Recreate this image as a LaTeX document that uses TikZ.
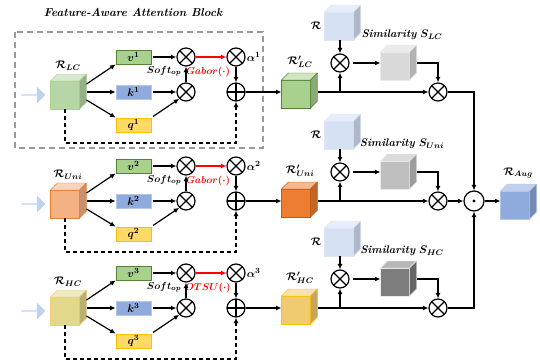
\documentclass[tikz,border=0pt]{standalone}
\usepackage{amsmath,amssymb}
\usepackage{tikz}
\usetikzlibrary{arrows.meta,positioning,shapes.arrows}

\definecolor{lcf}{RGB}{183,214,167}
\definecolor{lcd}{RGB}{169,209,142}
\definecolor{unif}{RGB}{244,177,131}
\definecolor{unid}{RGB}{237,125,49}
\definecolor{hcf}{RGB}{226,216,140}
\definecolor{hcd}{RGB}{244,205,110}
\definecolor{plcf}{RGB}{169,209,142}
\definecolor{plcd}{RGB}{84,130,53}
\definecolor{punif}{RGB}{237,125,49}
\definecolor{punid}{RGB}{197,90,17}
\definecolor{phcf}{RGB}{240,203,112}
\definecolor{phcd}{RGB}{255,192,0}
\definecolor{rcf}{RGB}{214,225,244}
\definecolor{rcd}{RGB}{222,230,245}
\definecolor{simlc}{RGB}{217,217,217}
\definecolor{simuni}{RGB}{190,190,190}
\definecolor{simhc}{RGB}{125,125,125}
\definecolor{simd}{RGB}{235,235,235}
\definecolor{augf}{RGB}{143,170,220}
\definecolor{augd}{RGB}{180,199,231}
\definecolor{vf}{RGB}{169,209,142}
\definecolor{vd}{RGB}{84,130,53}
\definecolor{kf}{RGB}{143,170,220}
\definecolor{kd}{RGB}{180,199,231}
\definecolor{qf}{RGB}{255,217,102}
\definecolor{qd}{RGB}{255,192,0}
\definecolor{inblue}{RGB}{189,211,240}

% front face as a node, top and side faces drawn from its corners
\newcommand{\drawcube}[5]{%
\node[cubefront,fill=#4,draw=#5] (#1) at (#2,#3) {};
\filldraw[fill=#4!55!white,draw=#5,line join=round] (#1.north west) -- ++(7,-7) -- ++(29,0) -- (#1.north east) -- cycle;
\filldraw[fill=#4!82!black,draw=#5,line join=round] (#1.north east) -- ++(7,-7) -- ++(0,28) -- (#1.south east) -- cycle;
}

\begin{document}
\begin{tikzpicture}[x=1pt,y=-1pt,
cubefront/.style={rectangle,minimum width=29pt,minimum height=28pt,inner sep=0,outer sep=0,line width=0.8pt},
box/.style={rectangle,minimum width=35pt,minimum height=14pt,inner sep=0,line width=0.8pt,font=\fontsize{11}{13}\selectfont},
vbox/.style={box,fill=vf,draw=vd},
kbox/.style={box,fill=kf,draw=kd},
qbox/.style={box,fill=qf,draw=qd},
opx/.style={circle,draw,line width=1.2pt,minimum size=18pt,inner sep=0,
  path picture={\draw[line width=1.2pt] (path picture bounding box.north west) -- (path picture bounding box.south east)
  (path picture bounding box.north east) -- (path picture bounding box.south west);}},
opp/.style={circle,draw,line width=1.2pt,minimum size=18pt,inner sep=0,
  path picture={\draw[line width=1.2pt] (path picture bounding box.north) -- (path picture bounding box.south)
  (path picture bounding box.east) -- (path picture bounding box.west);}},
opd/.style={circle,draw,line width=1.2pt,minimum size=20pt,inner sep=0,
  path picture={\fill (path picture bounding box.center) circle (1.7pt);}},
arr/.style={-{Latex[length=5.5pt,width=5pt]},line width=1.2pt},
inarr/.style={single arrow,fill=inblue,minimum height=24pt,minimum width=17pt,single arrow head extend=3pt,inner sep=0},
lbl/.style={inner sep=1pt,font=\fontsize{11}{13}\selectfont},
slbl/.style={inner sep=1pt,font=\fontsize{10}{12}\selectfont}]
\useasboundingbox (0,0) rectangle (540,362);
{
\node[font=\fontsize{11.5}{14}\selectfont\bfseries\itshape] (title) at (133,12) {Feature-Aware Attention Block};
\draw[gray!80,line width=1.3pt,dash pattern=on 6pt off 4pt] (15,32) rectangle (263,148);
%
\foreach \rw/\B/\nm/\opn/\cf/\cd/\pf/\pd/\sm in {1/92/LC/Gabor/lcf/lcd/plcf/plcd/simlc,
  2/201/Uni/Gabor/unif/unid/punif/punid/simuni,
  3/308/HC/OTSU/hcf/hcd/phcf/phcd/simhc}{
\node[inarr] (in\rw) at (33,\B+3) {};
\drawcube{c\rw}{65}{\B+3}{\cf}{\cd}
\node[lbl] (lc\rw) at (68,\B-26) {$\boldsymbol{\mathcal{R}_{\nm}}$};
\coordinate (cr\rw) at ([xshift=7pt,yshift=3pt]c\rw.east);
\node[vbox] (v\rw) at (133.5,\B-35) {$\boldsymbol{v^{\rw}}$};
\node[kbox] (k\rw) at (133.5,\B) {$\boldsymbol{k^{\rw}}$};
\node[qbox] (q\rw) at (133.5,\B+33) {$\boldsymbol{q^{\rw}}$};
\node[opx] (t\rw) at (186,\B-35) {};
\node[opx] (m\rw) at (186,\B) {};
\node[opx] (a\rw) at (236,\B-35) {};
\node[opp] (p\rw) at (236,\B) {};
\node[slbl] (so\rw) at (164,\B-21) {$\boldsymbol{Soft_{op}}$};
\node[slbl,red] (g\rw) at (208,\B-20) {$\boldsymbol{\opn(\cdot)}$};
\node[lbl,right=0pt of a\rw] (al\rw) {$\boldsymbol{\alpha^{\rw}}$};
\draw[arr] ([yshift=8pt]cr\rw) -- (v\rw.south west);
\draw[arr] (cr\rw) -- (k\rw);
\draw[arr] ([yshift=-8pt]cr\rw) -- (q\rw.north west);
\draw[arr,shorten <=2pt] (v\rw) -- (t\rw);
\draw[arr,shorten <=2pt] (k\rw) -- (m\rw);
\draw[arr,shorten <=2pt] (q\rw.north east) -- (m\rw.south west);
\draw[arr] (m\rw) -- (t\rw);
\draw[arr,red] (t\rw) -- (a\rw);
\draw[arr] (a\rw) -- (p\rw);
\coordinate (db\rw) at (65,\B+51);
\draw[arr,dash pattern=on 4pt off 3pt] (c\rw.south) -- (db\rw) -| (p\rw);
%
\drawcube{rp\rw}{296}{\B+2}{\pf}{\pd}
\node[lbl] (lp\rw) at (300,\B-30) {$\boldsymbol{\mathcal{R}'_{\nm}}$};
\draw[arr] (p\rw) -- (rp\rw.west |- p\rw);
\drawcube{r\rw}{339}{\B-66}{rcf}{rcd}
\node[lbl] (lr\rw) at (316,\B-66) {$\boldsymbol{\mathcal{R}}$};
\node[opx] (s\rw) at (340,\B-29) {};
\drawcube{sim\rw}{395}{\B-26}{\sm}{simd}
\node[lbl] (ls\rw) at (402,\B-57) {\textbf{\textit{Similarity}} $\boldsymbol{S_{\nm}}$};
\node[opx] (x\rw) at (438,\B) {};
\draw[arr] (rp\rw.east |- x\rw) ++(7,0) -- (x\rw);
\draw[arr] (s\rw |- x\rw) -- (s\rw);
\draw[arr] (r\rw.south -| s\rw) -- (s\rw);
\draw[arr,shorten <=3pt] (s\rw) -- (s\rw -| sim\rw.west);
\draw[arr] (sim\rw.east |- s\rw) ++(7,0) -| (x\rw.north);
}
%
\node[opd] (od) at (474,201) {};
\draw[arr] (x1.east) -| (od.north);
\draw[arr] (x2) -- (od);
\draw[arr] (x3.east) -| (od.south);
\drawcube{aug}{515}{205}{augf}{augd}
\node[lbl] (la) at (518,173) {$\boldsymbol{\mathcal{R}_{Aug}}$};
\draw[arr] (od) -- (aug.west |- od);
}
\end{tikzpicture}
\end{document}
